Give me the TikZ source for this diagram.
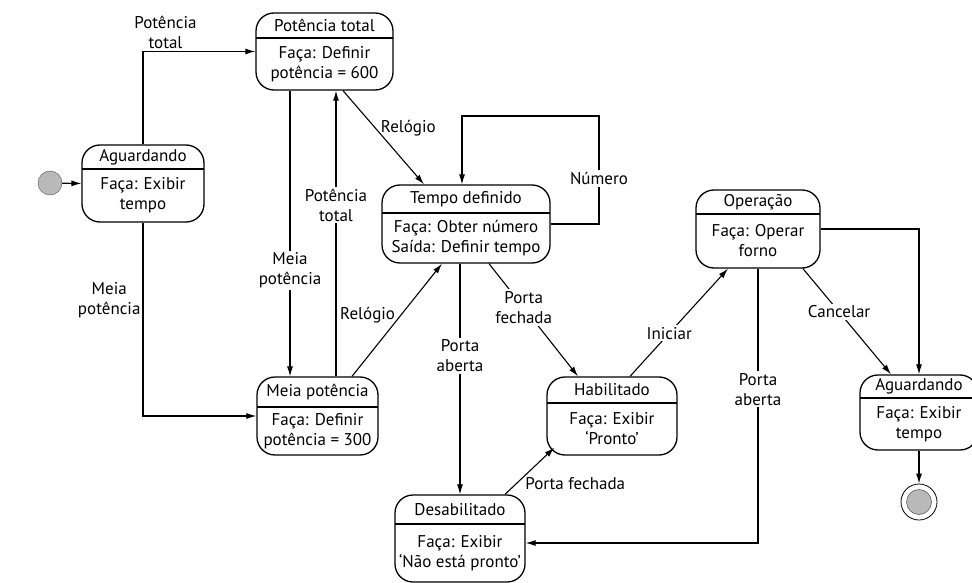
\documentclass[tikz,border=0pt]{standalone}
\usepackage{fontspec}
\setmainfont{PT Sans}
\usetikzlibrary{arrows.meta,calc}

\begin{document}
\begin{tikzpicture}[x=1pt, y=-1pt,
  umlbox/.style={draw, line width=1.3pt, rounded corners=18pt, inner sep=0pt},
  umltext/.style={align=center, inner sep=0pt, font=\fontsize{17}{20}\selectfont},
  lbl/.style={align=center, fill=white, inner sep=2pt, font=\fontsize{17}{20}\selectfont},
  arr/.style={line width=1.1pt, -{Latex[length=10pt,width=6pt]}}]
\useasboundingbox (0,0) rectangle (972,583);
% #1 name, #2 left, #3 top, #4 right, #5 bottom, #6 separator, #7 title, #8 body
\newcommand{\umlstate}[8]{%
  \node[umlbox, minimum width={#4-#2}, minimum height={#5-#3}] (#1) at ({(#2+#4)/2},{(#3+#5)/2}) {};
  \draw[line width=1.3pt] (#2,#6) -- (#4,#6);
  \node[umltext] (#1-t) at ({(#2+#4)/2},{(#3+#6)/2}) {#7};
  \node[umltext] (#1-b) at ({(#2+#4)/2},{(#6+#5)/2}) {#8};
}

% States
\umlstate{agd}{82}{145}{204}{222}{169}{Aguardando}{Faça: Exibir\\tempo}
\umlstate{tot}{256}{13}{393}{90}{38}{Potência total}{Faça: Definir\\potência = 600}
\umlstate{mei}{257}{377}{378}{455}{407}{Meia potência}{Faça: Definir\\potência = 300}
\umlstate{tmp}{382}{185}{550}{263}{213}{Tempo definido}{Faça: Obter número\\Saída: Definir tempo}
\umlstate{des}{395}{495}{525}{582}{524}{Desabilitado}{Faça: Exibir\\‘Não está pronto’}
\umlstate{hab}{547}{377}{677}{455}{403}{Habilitado}{Faça: Exibir\\‘Pronto’}
\umlstate{ope}{696}{190}{820}{268}{214}{Operação}{Faça: Operar\\forno}
\umlstate{fim}{860}{375}{978}{450}{398}{Aguardando}{Faça: Exibir\\tempo}

% Start and end points
\node[circle, draw=gray!60!black, fill=gray!55, minimum size=24pt, inner sep=0pt] (ini) at (50,183) {};
\node[circle, draw, line width=0.8pt, minimum size=36pt, inner sep=0pt] (end) at (919,502) {};
\fill[gray!55] (end) circle (12.5pt);
\draw[gray!60!black, line width=0.5pt] (end) circle (12.5pt);
\coordinate (loop) at (599,116);

% Transitions
\draw[arr] (ini) -- (agd.west);
\draw[arr] (agd.north) |- node[lbl, pos=0.6, above, fill=none] {Potência\\total} (tot.west);
\draw[arr] (agd.south) |- node[lbl, pos=0.2, left, fill=none] {Meia\\potência} (mei.west);
\draw[arr] ([xshift=-34.5pt]tot.south) -- node[lbl, pos=0.63] {Meia\\potência} ([xshift=-34.5pt]tot.south |- mei.north);
\draw[arr] ([xshift=18.5pt]mei.north) -- node[lbl, pos=0.6] {Potência\\total} ([xshift=18.5pt]mei.north |- tot.south);
\draw[arr] ([xshift=18.5pt]tot.south) -- node[lbl, pos=0.4, right, fill=none, inner sep=5pt] {Relógio} ([xshift=-42pt]tmp.north);
\draw[arr] ([xshift=34.5pt]mei.north) -- node[lbl, pos=0.54, left, fill=none, inner sep=5pt] {Relógio} ([xshift=-24pt]tmp.south);
\draw[arr] (tmp.east) -| node[lbl, pos=0.71] {Número} (loop) -| ([xshift=-4pt]tmp.north);
\draw[arr] (tmp.south -| des.north) -- node[lbl, pos=0.4] {Porta\\aberta} (des.north);
\draw[arr] ([xshift=23pt]tmp.south) -- node[lbl, pos=0.39] {Porta\\fechada} ([xshift=-34pt]hab.north);
\draw[arr] ([xshift=18pt]hab.north) -- node[lbl, pos=0.4] {Iniciar} ([xshift=-30pt]ope.south);
\draw[arr] ([xshift=45pt]des.north) -- node[lbl, pos=0.24, right, fill=none, xshift=6pt] {Porta fechada} ([xshift=8pt,yshift=8pt]hab.south west);
\draw[arr] (ope.south) |- node[lbl, pos=0.22] {Porta\\aberta} ([yshift=-4.5pt]des.east);
\draw[arr] ([xshift=45pt]ope.south) -- node[lbl, pos=0.41] {Cancelar} ([xshift=-28pt]fim.north);
\draw[arr] (ope.east) -| (fim.north);
\draw[arr] (fim.south) -- (end);

\end{tikzpicture}
\end{document}
